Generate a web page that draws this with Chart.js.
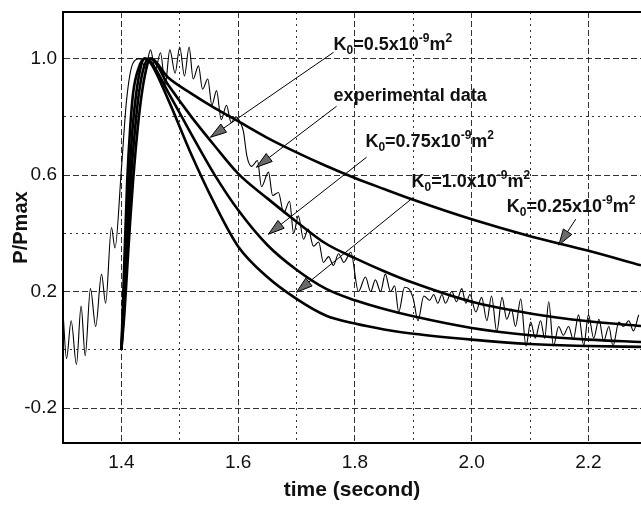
<!DOCTYPE html>
<html>
<head>
<meta charset="utf-8">
<script src="https://cdn.jsdelivr.net/npm/chart.js@4.4.1/dist/chart.umd.min.js"></script>
<style>
  html, body { margin: 0; padding: 0; background: #fff; }
  #wrap { width: 641px; height: 507px; }
</style>
</head>
<body>
<div id="wrap"><canvas id="grafico" width="641" height="507"></canvas></div>
<script>
// eixos
const xGridTicks = [1.3, 1.4, 1.5, 1.6, 1.7, 1.8, 1.9, 2.0, 2.1, 2.2];
const xLabelTicks = [1.4, 1.6, 1.8, 2.0, 2.2];
const yGridTicks = [-0.2, 0.0, 0.2, 0.4, 0.6, 0.8, 1.0];
const yLabelTicks = [-0.2, 0.2, 0.6, 1.0];

// curvas teoricas (mesma grade de tempo)
const theoryTime = [1.40, 1.405, 1.41, 1.415, 1.42, 1.43, 1.44, 1.45, 1.48, 1.52, 1.56, 1.60, 1.65, 1.70, 1.75, 1.80, 1.85, 1.90, 2.00, 2.10, 2.20, 2.29];
const ratioK025 = [0, 0.12, 0.28, 0.44, 0.58, 0.80, 0.94, 1.00, 0.935, 0.88, 0.83, 0.785, 0.728, 0.678, 0.632, 0.59, 0.552, 0.515, 0.448, 0.39, 0.34, 0.29];
const ratioK05  = [0, 0.16, 0.36, 0.54, 0.68, 0.88, 0.98, 1.00, 0.91, 0.80, 0.70, 0.605, 0.52, 0.44, 0.365, 0.315, 0.27, 0.23, 0.165, 0.125, 0.098, 0.082];
const ratioK075 = [0, 0.22, 0.46, 0.64, 0.78, 0.94, 1.00, 0.99, 0.885, 0.74, 0.60, 0.48, 0.36, 0.275, 0.21, 0.17, 0.14, 0.115, 0.075, 0.05, 0.035, 0.027];
const ratioK10  = [0, 0.30, 0.58, 0.76, 0.88, 0.97, 1.00, 0.985, 0.86, 0.67, 0.50, 0.355, 0.25, 0.175, 0.118, 0.09, 0.07, 0.055, 0.035, 0.02, 0.013, 0.01];

// dados experimentais
const expTime = [
  1.300, 1.306, 1.314, 1.323, 1.331, 1.338, 1.347, 1.356, 1.366, 1.373, 1.383, 1.389,
  1.400, 1.409, 1.420, 1.432, 1.441, 1.450, 1.458, 1.467, 1.475, 1.483, 1.492, 1.500,
  1.508, 1.516, 1.523, 1.532, 1.539, 1.548, 1.555, 1.563, 1.571, 1.580, 1.588, 1.596,
  1.604, 1.609, 1.615, 1.623, 1.633, 1.640, 1.652, 1.659, 1.669, 1.678, 1.688, 1.695,
  1.703, 1.712, 1.720, 1.729, 1.738, 1.746, 1.755, 1.763, 1.772, 1.781, 1.793, 1.806,
  1.818, 1.827, 1.835, 1.844, 1.852, 1.861, 1.868, 1.875, 1.885, 1.892, 1.900, 1.908,
  1.918, 1.928, 1.935, 1.942, 1.949, 1.955, 1.966, 1.974, 1.983, 1.990, 1.997, 2.007,
  2.017, 2.026, 2.034, 2.043, 2.052, 2.060, 2.068, 2.075, 2.084, 2.093, 2.101, 2.109,
  2.118, 2.125, 2.132, 2.140, 2.149, 2.157, 2.166, 2.174, 2.183, 2.192, 2.200, 2.209,
  2.218, 2.226, 2.235, 2.242, 2.252, 2.260, 2.269, 2.277, 2.286
];
const expRatio = [
  0.13, -0.03, 0.10, -0.05, 0.15, -0.02, 0.21, 0.08, 0.26, 0.16, 0.42, 0.35,
  0.62, 0.86, 0.985, 1.00, 0.97, 1.03, 0.96, 1.02, 0.91, 1.03, 0.95, 1.04,
  0.94, 1.04, 0.93, 0.975, 0.895, 0.93, 0.84, 0.89, 0.79, 0.84, 0.78, 0.80,
  0.78, 0.75, 0.665, 0.63, 0.65, 0.56, 0.61, 0.53, 0.54, 0.47, 0.51, 0.40,
  0.46, 0.38, 0.415, 0.356, 0.37, 0.30, 0.32, 0.29, 0.33, 0.30, 0.335, 0.20,
  0.25, 0.20, 0.24, 0.20, 0.26, 0.20, 0.22, 0.13, 0.215, 0.21, 0.175, 0.10,
  0.185, 0.17, 0.19, 0.16, 0.19, 0.16, 0.20, 0.165, 0.21, 0.16, 0.19, 0.13,
  0.18, 0.10, 0.185, 0.062, 0.18, 0.105, 0.14, 0.08, 0.175, 0.013, 0.095, 0.04,
  0.10, 0.04, 0.165, 0.013, 0.08, 0.05, 0.08, 0.035, 0.12, 0.015, 0.12, 0.04,
  0.105, 0.03, 0.08, 0.013, 0.095, 0.08, 0.10, 0.065, 0.12
];

// anotacoes (coordenadas em unidades dos eixos)
const notePermeability = ['0.5', null, '0.75', '1.0', '0.25'];
const noteTextX = [1.7635, 1.7635, 1.818, 1.897, 2.06];
const noteTextY = [1.028, 0.853, 0.696, 0.558, 0.473];
const arrowFromX = [1.7635, 1.7686, 1.820, 1.9006, 2.1783];
const arrowFromY = [1.0216, 0.8364, 0.6614, 0.5242, 0.4487];
const arrowToX = [1.5526, 1.6314, 1.652, 1.700, 2.1492];
const arrowToY = [0.730, 0.6271, 0.397, 0.198, 0.3595];

const FONTE = "'Liberation Sans', Arial, Helvetica, sans-serif";
Chart.defaults.font.family = FONTE;
Chart.defaults.color = '#111';

function pares(xs, ys) {
    return xs.map((x, i) => ({ x: x, y: ys[i] }));
}

function ehRotulo(lista, v) {
    return lista.some(t => Math.abs(t - v) < 1e-6);
}

function curvaTeorica(ys) {
    return {
        data: pares(theoryTime, ys),
        showLine: true,
        borderColor: '#000',
        borderWidth: 2.6,
        pointRadius: 0,
        cubicInterpolationMode: 'monotone'
    };
}

// tira o espaco extra que o Chart.js reserva para os rotulos nas pontas
function semPadding(s) {
    s.paddingTop = 0;
    s.paddingBottom = 0;
    s.paddingLeft = 0;
    s.paddingRight = 0;
}

const pluginAnotacoes = {
    id: 'anotacoes',
    afterDatasetsDraw(chart) {
        const ctx = chart.ctx;
        const sx = chart.scales.x;
        const sy = chart.scales.y;
        ctx.save();
        // setas
        for (let i = 0; i < arrowFromX.length; i++) {
            const x1 = sx.getPixelForValue(arrowFromX[i]);
            const y1 = sy.getPixelForValue(arrowFromY[i]);
            const x2 = sx.getPixelForValue(arrowToX[i]);
            const y2 = sy.getPixelForValue(arrowToY[i]);
            const ang = Math.atan2(y2 - y1, x2 - x1);
            ctx.strokeStyle = '#000';
            ctx.lineWidth = 1;
            ctx.beginPath();
            ctx.moveTo(x1, y1);
            ctx.lineTo(x2, y2);
            ctx.stroke();
            const len = 16, half = 5;
            const bx = x2 - len * Math.cos(ang), by = y2 - len * Math.sin(ang);
            ctx.beginPath();
            ctx.moveTo(x2, y2);
            ctx.lineTo(bx + half * Math.sin(ang), by - half * Math.cos(ang));
            ctx.lineTo(bx - half * Math.sin(ang), by + half * Math.cos(ang));
            ctx.closePath();
            ctx.fillStyle = '#6a6a6a';
            ctx.fill();
            ctx.stroke();
        }
        // textos
        ctx.fillStyle = '#111';
        ctx.textBaseline = 'alphabetic';
        ctx.textAlign = 'left';
        for (let i = 0; i < noteTextX.length; i++) {
            let cx = sx.getPixelForValue(noteTextX[i]);
            const cy = sy.getPixelForValue(noteTextY[i]);
            const k = notePermeability[i];
            const partes = k === null
                ? [['experimental data', 0, false]]
                : [['K', 0, false], ['0', 4, true], ['=' + k + 'x10', 0, false], ['-9', -8, true], ['m', 0, false], ['2', -8, true]];
            partes.forEach(p => {
                ctx.font = p[2] ? 'bold 12px ' + FONTE : 'bold 18px ' + FONTE;
                ctx.fillText(p[0], cx, cy + p[1]);
                cx += ctx.measureText(p[0]).width;
            });
        }
        ctx.restore();
    }
};

const ctx = document.getElementById('grafico');
new Chart(ctx, {
    type: 'scatter',
    data: {
        datasets: [
            {
                data: pares(expTime, expRatio),
                showLine: true,
                borderColor: '#000',
                borderWidth: 1.1,
                pointRadius: 0,
                cubicInterpolationMode: 'monotone'
            },
            curvaTeorica(ratioK025),
            curvaTeorica(ratioK05),
            curvaTeorica(ratioK075),
            curvaTeorica(ratioK10)
        ]
    },
    options: {
        responsive: false,
        animation: false,
        layout: { padding: { top: 12, left: 0, right: 0, bottom: 0 } },
        plugins: {
            legend: { display: false },
            tooltip: { enabled: false }
        },
        scales: {
            x: {
                type: 'linear',
                position: 'bottom',
                min: 1.3,
                max: 2.29,
                afterBuildTicks: s => { s.ticks = xGridTicks.map(v => ({ value: v })); },
                afterFit: s => { s.height = 64; semPadding(s); },
                ticks: {
                    autoSkip: false,
                    maxRotation: 0,
                    padding: 8,
                    color: '#111',
                    font: { size: 19 },
                    callback: v => ehRotulo(xLabelTicks, v) ? v.toFixed(1) : ''
                },
                grid: { color: '#333', lineWidth: 1, drawTicks: false },
                border: {
                    display: true, color: '#000', width: 2,
                    dash: c => (c.tick ? (ehRotulo(xLabelTicks, c.tick.value) ? [6, 3] : [2, 4]) : [])
                },
                title: {
                    display: true,
                    text: 'time (second)',
                    color: '#111',
                    font: { size: 21, weight: 'bold' },
                    padding: { top: 0, bottom: 4 }
                }
            },
            xTop: {
                type: 'linear',
                position: 'top',
                min: 1.3,
                max: 2.29,
                afterFit: s => { s.height = 0; semPadding(s); },
                ticks: { display: false },
                grid: { display: false },
                border: { display: true, color: '#000', width: 2 }
            },
            y: {
                type: 'linear',
                position: 'left',
                min: -0.32,
                max: 1.16,
                afterBuildTicks: s => { s.ticks = yGridTicks.map(v => ({ value: v })); },
                afterFit: s => { s.width = 63; semPadding(s); },
                ticks: {
                    autoSkip: false,
                    padding: 6,
                    color: '#111',
                    font: { size: 19 },
                    callback: v => ehRotulo(yLabelTicks, v) ? v.toFixed(1) : ''
                },
                grid: { color: '#333', lineWidth: 1, drawTicks: false },
                border: {
                    display: true, color: '#000', width: 2,
                    dash: c => (c.tick ? (ehRotulo(yLabelTicks, c.tick.value) ? [6, 3] : [2, 4]) : [])
                },
                title: {
                    display: true,
                    text: 'P/Pmax',
                    color: '#111',
                    font: { size: 20, weight: 'bold' },
                    padding: { top: 9, bottom: 0 }
                }
            }
        }
    },
    plugins: [pluginAnotacoes]
});
</script>
</body>
</html>
